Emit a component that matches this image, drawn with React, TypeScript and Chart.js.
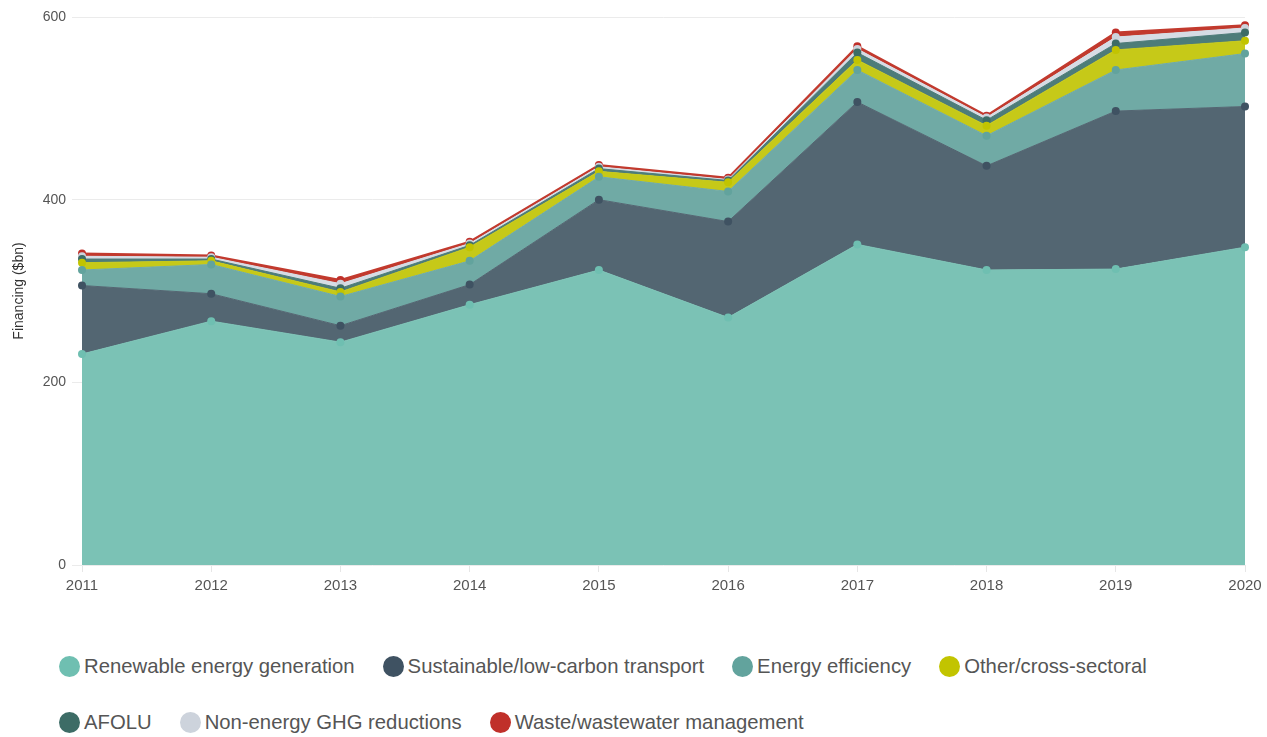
import React, { useEffect, useRef } from "react";
import { Chart, registerables } from "chart.js";

Chart.register(...registerables);

const years = ["2011", "2012", "2013", "2014", "2015", "2016", "2017", "2018", "2019", "2020"];
const seriesNames = [
  "Renewable energy generation",
  "Sustainable/low-carbon transport",
  "Energy efficiency",
  "Other/cross-sectoral",
  "AFOLU",
  "Non-energy GHG reductions",
  "Waste/wastewater management",
];
const renewable = [231, 267, 244, 285, 323, 271, 351, 323, 324, 348];
const transport = [75, 30, 18, 22, 77, 105, 156, 114, 173, 154];
const efficiency = [17, 32, 32, 26, 25, 33, 35, 33, 45, 58];
const crossSectoral = [8, 4, 5, 15, 6, 10, 11, 11, 22, 14];
const afolu = [4, 2, 4, 2, 3, 2, 8, 6, 7, 9];
const nonEnergy = [3, 2, 5, 2, 2, 1, 4, 3, 7, 5];
const waste = [3, 2, 4, 2, 2, 2, 3, 2, 5, 3];
const seriesValues = [renewable, transport, efficiency, crossSectoral, afolu, nonEnergy, waste];
const fillColors = ["#7bc2b5", "#536672", "#70aaa5", "#c6c918", "#4d7c79", "#d6dce4", "#c23a2e"];
const pointColors = ["#6fbfb1", "#3f5262", "#62a39d", "#c2c400", "#3d6c66", "#cdd3dc", "#c0302a"];
const legendRows = [[0, 1, 2, 3], [4, 5, 6]];
const yTicks = [0, 200, 400, 600];

const FONT = "'Liberation Sans', Arial, Helvetica, sans-serif";

export default function App() {
  const canvasRef = useRef<HTMLCanvasElement | null>(null);

  useEffect(() => {
    document.body.style.margin = "0";
    const canvas = canvasRef.current;
    if (!canvas) return;
    const chart = new Chart(canvas, {
      type: "line",
      data: {
        labels: years,
        datasets: seriesValues.map((vals, i) => ({
          label: seriesNames[i],
          data: vals,
          backgroundColor: fillColors[i],
          borderColor: fillColors[i],
          borderWidth: i === 6 ? 2 : 1,
          pointBackgroundColor: pointColors[i],
          pointBorderColor: pointColors[i],
          pointRadius: 4,
          pointBorderWidth: 0,
          fill: i === 0 ? "origin" : "-1",
          tension: 0,
        })),
      },
      options: {
        animation: false,
        responsive: true,
        maintainAspectRatio: false,
        layout: { padding: { left: 0, right: 22, top: 17, bottom: 0 } },
        plugins: {
          legend: { display: false },
          tooltip: { enabled: false },
        },
        scales: {
          x: {
            type: "category",
            offset: false,
            grid: {
              display: true,
              drawOnChartArea: false,
              drawTicks: true,
              tickLength: 7,
              color: "#e6e6e6",
            },
            border: { display: false },
            ticks: {
              color: "#555",
              font: { family: FONT, size: 15 },
              padding: 5,
              maxRotation: 0,
            },
            afterFit: (scale: any) => {
              scale.height = 35;
            },
          },
          y: {
            stacked: true,
            min: 0,
            max: 600,
            afterBuildTicks: (scale: any) => {
              scale.ticks = yTicks.map((v) => ({ value: v }));
            },
            grid: {
              color: "#ebebeb",
              drawTicks: true,
              tickLength: 10,
            },
            border: { display: false },
            ticks: {
              color: "#555",
              font: { family: FONT, size: 14 },
              padding: 6,
            },
            title: {
              display: true,
              text: "Financing ($bn)",
              color: "#333",
              font: { family: FONT, size: 14 },
              padding: { top: 11, bottom: 0 },
            },
            afterFit: (scale: any) => {
              scale.width = 82;
            },
          },
        },
      },
    });
    return () => chart.destroy();
  }, []);

  return (
    <div style={{ position: "absolute", left: 0, top: 0, width: 1267, height: 737, background: "#fff" }}>
      <div style={{ position: "relative", width: 1267, height: 600 }}>
        <canvas ref={canvasRef} />
      </div>
      {legendRows.map((row, r) => (
        <div
          key={r}
          style={{
            position: "absolute",
            left: 59,
            top: r === 0 ? 655 : 711,
            display: "flex",
            alignItems: "center",
            fontFamily: FONT,
            fontSize: 20.3,
            color: "#555",
            whiteSpace: "nowrap",
          }}
        >
          {row.map((idx) => (
            <div key={idx} style={{ display: "flex", alignItems: "center", marginRight: 28 }}>
              <span
                style={{
                  display: "inline-block",
                  width: 21,
                  height: 21,
                  borderRadius: "50%",
                  background: pointColors[idx],
                  marginRight: 4,
                }}
              />
              <span>{seriesNames[idx]}</span>
            </div>
          ))}
        </div>
      ))}
    </div>
  );
}
